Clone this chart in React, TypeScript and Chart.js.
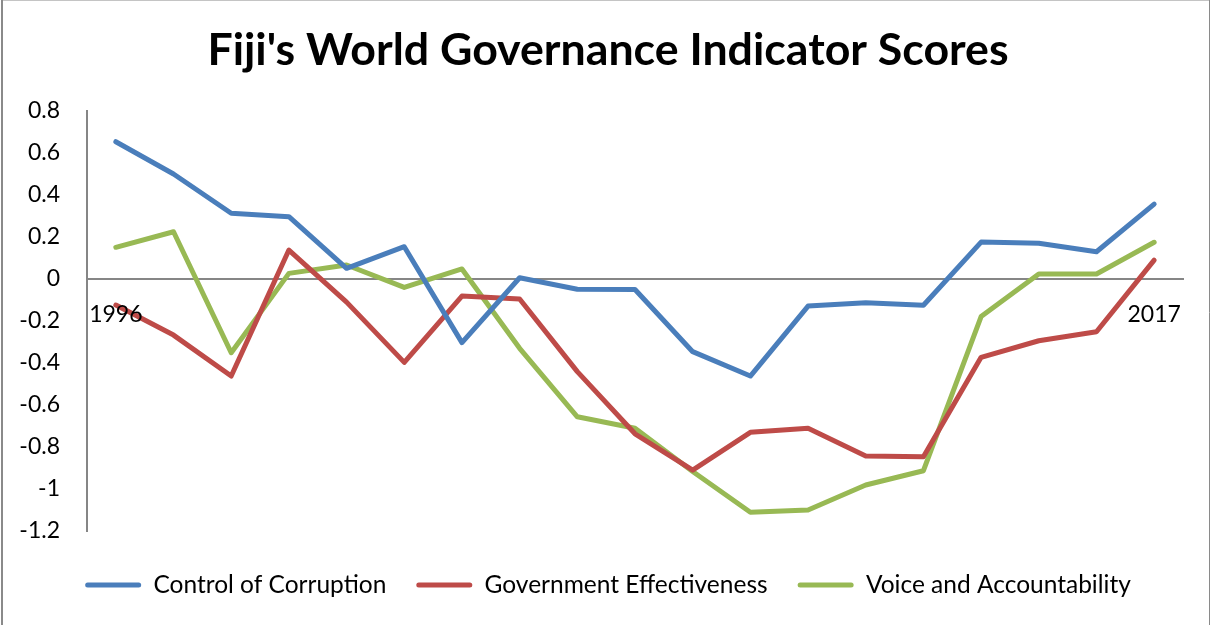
import React, { useEffect, useRef } from "react";
import { Chart, registerables } from "chart.js";

Chart.register(...registerables);

const TITLE = "Fiji's World Governance Indicator Scores";
const years = ["1996", "1998", "2000", "2002", "2003", "2004", "2005", "2006", "2007", "2008", "2009", "2010", "2011", "2012", "2013", "2014", "2015", "2016", "2017"];
const controlOfCorruption = [0.654, 0.5, 0.313, 0.297, 0.051, 0.154, -0.303, 0.006, -0.049, -0.05, -0.346, -0.462, -0.129, -0.113, -0.125, 0.176, 0.17, 0.13, 0.357];
const governmentEffectiveness = [-0.124, -0.267, -0.462, 0.138, -0.11, -0.397, -0.081, -0.095, -0.441, -0.737, -0.91, -0.73, -0.711, -0.843, -0.846, -0.373, -0.294, -0.251, 0.09];
const voiceAndAccountability = [0.151, 0.225, -0.351, 0.027, 0.067, -0.04, 0.048, -0.33, -0.656, -0.711, -0.917, -1.111, -1.1, -0.981, -0.913, -0.179, 0.024, 0.024, 0.175];
const seriesNames = ["Control of Corruption", "Government Effectiveness", "Voice and Accountability"];
const seriesColors = ["#4A7EBB", "#BE4B48", "#98B954"];
const yMin = -1.2;
const yMax = 0.8;
const yStep = 0.2;

const FONT = "Lato, 'Open Sans', sans-serif";

const framePlugin = {
  id: "frame",
  afterDraw(chart: any) {
    const ctx = chart.ctx;
    const w = chart.width;
    ctx.save();
    ctx.strokeStyle = "#c4c4c4";
    ctx.lineWidth = 1;
    ctx.beginPath();
    ctx.moveTo(2, 0.5);
    ctx.lineTo(w - 2, 0.5);
    ctx.stroke();
    ctx.strokeStyle = "#8a8a8a";
    ctx.lineWidth = 2;
    ctx.beginPath();
    ctx.moveTo(2, 0);
    ctx.lineTo(2, chart.height);
    ctx.stroke();
    ctx.lineWidth = 1;
    ctx.beginPath();
    ctx.moveTo(w - 2.5, 0);
    ctx.lineTo(w - 2.5, chart.height);
    ctx.stroke();
    ctx.restore();
  },
};

export default function App() {
  const ref = useRef<HTMLCanvasElement>(null);

  useEffect(() => {
    if (!ref.current) return;
    const data = [controlOfCorruption, governmentEffectiveness, voiceAndAccountability];
    const chart = new Chart(ref.current, {
      type: "line",
      data: {
        labels: years,
        datasets: data.map((d, i) => ({
          label: seriesNames[i],
          data: d,
          borderColor: seriesColors[i],
          backgroundColor: seriesColors[i],
          borderWidth: 5,
          pointRadius: 0,
          tension: 0,
          borderCapStyle: "round" as const,
          borderJoinStyle: "round" as const,
          xAxisID: "x",
          yAxisID: "y",
        })),
      },
      options: {
        responsive: false,
        animation: false,
        layout: { padding: { left: 33, right: 29, top: 0, bottom: 17.75 } },
        plugins: {
          title: {
            display: true,
            text: TITLE,
            color: "#000",
            font: { family: FONT, size: 44.7, weight: "bold" },
            padding: { top: 24, bottom: 33.4 },
          },
          legend: {
            position: "bottom",
            labels: {
              color: "#000",
              font: { family: FONT, size: 24.5 },
              boxWidth: 56,
              boxHeight: 5,
              padding: 30,
              useBorderRadius: true,
              borderRadius: 2.5,
              generateLabels: (c: any) =>
                (Chart.defaults.plugins.legend.labels as any).generateLabels(c).map((l: any) => ({ ...l, lineWidth: 0 })),
            },
          },
          tooltip: { enabled: false },
        },
        scales: {
          x: {
            type: "category",
            position: { y: 0 } as any,
            offset: true,
            grid: { display: false, drawTicks: false },
            border: { display: true, color: "#868686", width: 2 },
            ticks: {
              z: 1,
              autoSkip: false,
              maxRotation: 0,
              padding: 22,
              color: "#000",
              font: { family: FONT, size: 23 },
              callback: (_v: any, i: number) => (i === 0 || i === years.length - 1 ? years[i] : ""),
            },
          },
          xPad: {
            type: "category",
            axis: "x",
            position: "bottom",
            grid: { display: false, drawTicks: false },
            border: { display: false },
            ticks: { display: false },
            afterFit: (s: any) => {
              s.height = 11.75;
            },
          } as any,
          y: {
            min: yMin,
            max: yMax,
            grid: { display: false, drawTicks: false },
            border: { display: true, color: "#868686", width: 2 },
            ticks: {
              stepSize: yStep,
              padding: 27,
              color: "#000",
              font: { family: FONT, size: 23 },
              callback: (v: any) => String(Number(Number(v).toFixed(1))),
            },
            afterFit: (s: any) => {
              s.width = 54;
              s._computeLabelArea = () => undefined;
            },
          },
        },
      },
      plugins: [framePlugin],
    });
    return () => chart.destroy();
  }, []);

  return (
    <div style={{ position: "absolute", left: 0, top: 0, width: 1212, height: 625, background: "#fff" }}>
      <canvas ref={ref} width={1212} height={625} style={{ display: "block" }} />
    </div>
  );
}
